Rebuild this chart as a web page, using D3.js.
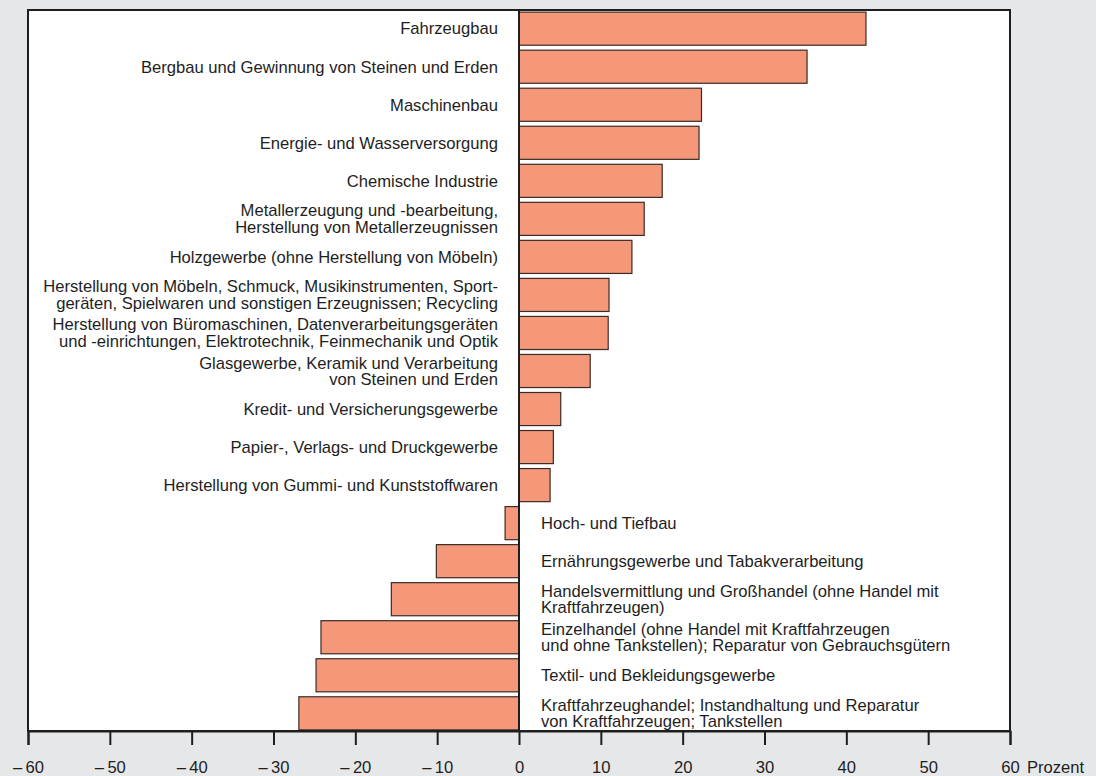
<!DOCTYPE html>
<html><head><meta charset="utf-8">
<script src="https://cdn.jsdelivr.net/npm/d3@7"></script>
<style>
html,body{margin:0;padding:0;background:#e6e7e9;}
svg{display:block;}
text{font-family:"Liberation Sans",Arial,Helvetica,sans-serif;fill:#1e1e1e;}
</style></head><body>
<svg id="c" width="1096" height="776"></svg>
<script>
const categories = [
 "Fahrzeugbau",
 "Bergbau und Gewinnung von Steinen und Erden",
 "Maschinenbau",
 "Energie- und Wasserversorgung",
 "Chemische Industrie",
 "Metallerzeugung und -bearbeitung,|Herstellung von Metallerzeugnissen",
 "Holzgewerbe (ohne Herstellung von Möbeln)",
 "Herstellung von Möbeln, Schmuck, Musikinstrumenten, Sport-|geräten, Spielwaren und sonstigen Erzeugnissen; Recycling",
 "Herstellung von Büromaschinen, Datenverarbeitungsgeräten|und -einrichtungen, Elektrotechnik, Feinmechanik und Optik",
 "Glasgewerbe, Keramik und Verarbeitung|von Steinen und Erden",
 "Kredit- und Versicherungsgewerbe",
 "Papier-, Verlags- und Druckgewerbe",
 "Herstellung von Gummi- und Kunststoffwaren",
 "Hoch- und Tiefbau",
 "Ernährungsgewerbe und Tabakverarbeitung",
 "Handelsvermittlung und Großhandel (ohne Handel mit|Kraftfahrzeugen)",
 "Einzelhandel (ohne Handel mit Kraftfahrzeugen|und ohne Tankstellen); Reparatur von Gebrauchsgütern",
 "Textil- und Bekleidungsgewerbe",
 "Kraftfahrzeughandel; Instandhaltung und Reparatur|von Kraftfahrzeugen; Tankstellen"
];
const values = [42.4, 35.2, 22.3, 22.0, 17.5, 15.3, 13.8, 11.0, 10.9, 8.7, 5.1, 4.2, 3.8, -1.7, -10.1, -15.6, -24.2, -24.8, -26.9];
const ticks = [-60,-50,-40,-30,-20,-10,0,10,20,30,40,50,60];
const unitLabel = "Prozent";

const svg = d3.select("#c");
const L=28, R=1010, T=10, B=731;
const FS = 16.6;
const x = d3.scaleLinear().domain([-60,60]).range([L,R]);
const y = d3.scaleBand().domain(d3.range(categories.length)).range([T+1,B]).paddingInner(0.13).paddingOuter(0.03);

svg.append("rect").attr("x",L).attr("y",T).attr("width",R-L).attr("height",B-T).attr("fill","#fff");

svg.selectAll("rect.bar").data(values).join("rect").attr("class","bar")
  .attr("x",d=>x(Math.min(0,d))).attr("width",d=>Math.abs(x(d)-x(0)))
  .attr("y",(d,i)=>y(i)).attr("height",y.bandwidth())
  .attr("fill","#f5987a").attr("stroke","#3b2b26").attr("stroke-width",1.2);

const lh = 16.6;
svg.selectAll("text.lab").data(categories).join("text").attr("class","lab")
  .attr("font-size",FS)
  .attr("text-anchor",(d,i)=>values[i]>=0?"end":"start")
  .each(function(d,i){
    const lines=d.split("|");
    const cx = values[i]>=0 ? x(0)-21 : x(0)+22;
    const cy = y(i)+y.bandwidth()/2;
    const t=d3.select(this);
    lines.forEach((ln,k)=>{
      t.append("tspan").attr("x",cx).attr("y",cy+(k-(lines.length-1)/2)*lh).attr("dy","0.35em").text(ln);
    });
  });

// frame
svg.append("rect").attr("x",L).attr("y",T).attr("width",R-L).attr("height",B-T).attr("fill","none").attr("stroke","#1e1e1e").attr("stroke-width",2);
svg.append("line").attr("x1",x(0)).attr("x2",x(0)).attr("y1",T).attr("y2",B).attr("stroke","#1e1e1e").attr("stroke-width",2);

const fmt = d => d<0 ? "\u2013\u2009"+Math.abs(d) : String(d);
const ax = svg.append("g").attr("transform",`translate(0,${B})`)
  .call(d3.axisBottom(x).tickValues(ticks).tickFormat(fmt).tickSize(14).tickPadding(16));
ax.select(".domain").attr("stroke","#1e1e1e").attr("stroke-width",2);
ax.selectAll(".tick line").attr("stroke","#1e1e1e").attr("stroke-width",2);
ax.selectAll(".tick text").attr("font-size",FS).attr("fill","#1e1e1e").attr("font-family","Liberation Sans, Arial, sans-serif");

svg.append("text").attr("x",R+17).attr("y",773).attr("font-size",FS).text(unitLabel);
</script>
</body></html>
